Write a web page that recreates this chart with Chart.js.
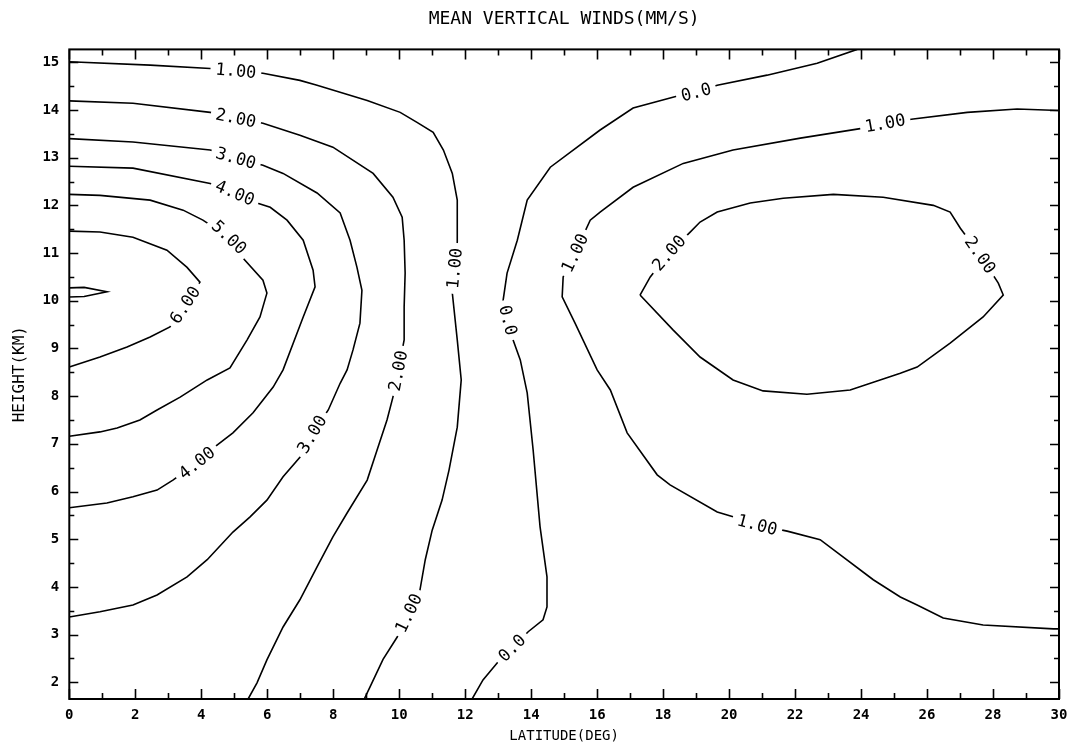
<!DOCTYPE html>
<html>
<head>
<meta charset="utf-8">
<title>Mean vertical winds</title>
<script src="https://cdn.jsdelivr.net/npm/chart.js@4.4.1/dist/chart.umd.min.js"></script>
<style>
  html, body { margin: 0; padding: 0; background: #ffffff; }
  #wrap { width: 1073px; height: 749px; }
</style>
</head>
<body>
<div id="wrap"><canvas id="chart" width="1073" height="749"></canvas></div>
<script>
// Axis tick values
const latTicks = [0, 2, 4, 6, 8, 10, 12, 14, 16, 18, 20, 22, 24, 26, 28, 30];
const heightTicks = [2, 3, 4, 5, 6, 7, 8, 9, 10, 11, 12, 13, 14, 15];

// Contour lines of mean vertical wind, vertices as [latitude (deg), height (km)]
const w100West = [
  [0, 15.01], [2.45, 14.94], [4.27, 14.87], [5.05, 14.82], [5.87, 14.77], [6.99, 14.62],
  [7.51, 14.52], [9.03, 14.20], [10.03, 13.95], [10.54, 13.74], [11.03, 13.53], [11.34, 13.16],
  [11.61, 12.67], [11.76, 12.11], [11.76, 11.23], [11.68, 10.68], [11.61, 10.16], [11.76, 9.18],
  [11.88, 8.34], [11.76, 7.35], [11.51, 6.45], [11.30, 5.82], [11.00, 5.19], [10.79, 4.57],
  [10.63, 3.94], [10.29, 3.45], [9.94, 2.95], [9.51, 2.48], [9.12, 1.91], [8.94, 1.65]
];
const w200West = [
  [0, 14.19], [1.93, 14.14], [4.27, 13.95], [5.05, 13.83], [5.87, 13.72], [6.99, 13.47],
  [7.99, 13.22], [9.21, 12.67], [9.81, 12.17], [10.09, 11.75], [10.15, 11.27], [10.18, 10.58],
  [10.15, 9.87], [10.15, 9.18], [9.97, 8.53], [9.81, 7.98], [9.63, 7.50], [9.33, 6.87],
  [9.03, 6.24], [8.42, 5.55], [7.99, 5.05], [7.51, 4.42], [6.99, 3.73], [6.48, 3.16],
  [5.99, 2.47], [5.69, 1.99], [5.42, 1.65]
];
const w300 = [
  [0, 13.40], [1.93, 13.33], [4.27, 13.16], [5.05, 12.99], [5.87, 12.84], [6.48, 12.67],
  [7.51, 12.26], [8.21, 11.84], [8.51, 11.27], [8.72, 10.70], [8.87, 10.22], [8.81, 9.53],
  [8.60, 8.97], [8.42, 8.55], [8.21, 8.27], [7.85, 7.71], [7.36, 7.20], [6.99, 6.72],
  [6.48, 6.31], [5.99, 5.82], [5.48, 5.47], [4.96, 5.15], [4.18, 4.57], [3.57, 4.21],
  [2.66, 3.83], [1.93, 3.62], [0.93, 3.48], [0, 3.37]
];
const w400 = [
  [0, 12.82], [1.93, 12.78], [4.27, 12.46], [5.02, 12.26], [5.69, 12.05], [6.09, 11.96],
  [6.60, 11.69], [7.09, 11.27], [7.39, 10.64], [7.45, 10.29], [7.09, 9.66], [6.48, 8.55],
  [6.18, 8.19], [5.57, 7.65], [4.96, 7.23], [4.36, 6.91], [3.87, 6.60], [3.14, 6.24],
  [2.66, 6.03], [1.93, 5.89], [1.14, 5.76], [0, 5.66]
];
const w500 = [
  [0, 12.23], [0.93, 12.21], [2.45, 12.11], [3.45, 11.90], [4.05, 11.69], [4.84, 11.33],
  [5.27, 10.89], [5.87, 10.43], [5.99, 10.16], [5.78, 9.66], [5.39, 9.18], [4.87, 8.59],
  [4.18, 8.34], [3.36, 7.98], [2.66, 7.71], [2.14, 7.50], [1.45, 7.33], [0.93, 7.25], [0, 7.16]
];
const w600 = [
  [0, 11.46], [0.93, 11.44], [1.93, 11.33], [2.96, 11.06], [3.57, 10.70], [3.96, 10.39],
  [3.51, 9.91], [3.05, 9.45], [2.45, 9.24], [1.75, 9.03], [0.93, 8.82], [0, 8.61]
];
const w700 = [
  [0, 10.27], [0.45, 10.28], [1.14, 10.19], [0.45, 10.09], [0, 10.08]
];
const w000 = [
  [12.21, 1.65], [12.54, 2.05], [13.00, 2.43], [13.42, 2.72], [13.91, 3.06], [14.36, 3.31],
  [14.48, 3.58], [14.48, 4.21], [14.27, 5.26], [14.06, 6.87], [13.88, 8.07], [13.67, 8.76],
  [13.45, 9.18], [13.30, 9.59], [13.15, 10.01], [13.27, 10.58], [13.58, 11.27], [13.88, 12.11],
  [14.58, 12.80], [16.09, 13.58], [17.09, 14.04], [18.52, 14.31], [19.00, 14.37], [19.64, 14.52],
  [21.15, 14.73], [22.67, 14.98], [23.88, 15.27]
];
const w100East = [
  [30, 13.99], [28.73, 14.02], [27.22, 13.95], [25.58, 13.81], [24.73, 13.72], [24.07, 13.62],
  [22.16, 13.41], [20.12, 13.16], [18.61, 12.88], [17.09, 12.38], [16.09, 11.86], [15.79, 11.69],
  [15.33, 11.00], [14.97, 10.50], [14.94, 10.08], [15.33, 9.53], [16.00, 8.55], [16.40, 8.13],
  [16.91, 7.23], [17.82, 6.35], [18.21, 6.14], [19.64, 5.57], [20.12, 5.47], [20.85, 5.30],
  [21.76, 5.17], [22.76, 4.99], [24.37, 4.15], [25.19, 3.79], [25.70, 3.62], [26.49, 3.35],
  [27.70, 3.20], [29.83, 3.12], [30, 3.12]
];
const w200East = [
  [17.30, 10.12], [17.61, 10.50], [18.18, 11.00], [18.82, 11.44], [19.12, 11.65], [19.64, 11.86],
  [20.64, 12.05], [21.64, 12.15], [23.16, 12.23], [24.67, 12.17], [26.19, 12.00], [26.70, 11.86],
  [27.01, 11.52], [27.61, 10.96], [28.16, 10.37], [28.31, 10.12], [27.70, 9.66], [26.70, 9.11],
  [25.70, 8.61], [25.19, 8.48], [23.67, 8.13], [22.36, 8.04], [21.03, 8.11], [20.12, 8.34],
  [19.12, 8.82], [18.30, 9.39], [17.30, 10.12]
];

// Contour level of each line and the vertices where its value is written
const contours = [
  { level: 1, points: w100West, labelAt: [3, 15, 25] },
  { level: 2, points: w200West, labelAt: [3, 14] },
  { level: 3, points: w300, labelAt: [3, 16] },
  { level: 4, points: w400, labelAt: [3, 16] },
  { level: 5, points: w500, labelAt: [5] },
  { level: 6, points: w600, labelAt: [6] },
  { level: 7, points: w700, labelAt: [] },
  { level: 0, points: w000, labelAt: [3, 13, 22] },
  { level: 1, points: w100East, labelAt: [4, 12, 23] },
  { level: 2, points: w200East, labelAt: [2, 13] }
];

const FONT = '"DejaVu Sans Mono", "Liberation Mono", monospace';
const levelText = v => (v === 0 ? '0.0' : v.toFixed(2));

// Writes the level on each contour, rotated along the line, over a white gap
const contourLabels = {
  id: 'contourLabels',
  afterDatasetsDraw(chart) {
    const { ctx } = chart;
    const xs = chart.scales.x, ys = chart.scales.y;
    const px = p => [xs.getPixelForValue(p[0]), ys.getPixelForValue(p[1])];
    ctx.save();
    ctx.font = '17px ' + FONT;
    ctx.textAlign = 'center';
    ctx.textBaseline = 'middle';
    contours.forEach(c => {
      c.labelAt.forEach(i => {
        const [cx, cy] = px(c.points[i]);
        const [ax, ay] = px(c.points[i - 1]);
        const [bx, by] = px(c.points[i + 1]);
        let ang = Math.atan2(by - ay, bx - ax);
        if (ang > Math.PI / 2) ang -= Math.PI;
        if (ang < -Math.PI / 2) ang += Math.PI;
        const txt = levelText(c.level);
        const w = ctx.measureText(txt).width;
        ctx.save();
        ctx.translate(cx, cy);
        ctx.rotate(ang);
        ctx.fillStyle = '#ffffff';
        ctx.fillRect(-w / 2 - 5, -8, w + 10, 16);
        ctx.fillStyle = '#000000';
        ctx.fillText(txt, 0, 1);
        ctx.restore();
      });
    });
    ctx.restore();
  }
};

// Closed frame with inward major and minor tick marks on all four sides
const frameTicks = {
  id: 'frameTicks',
  afterDraw(chart) {
    const { ctx, chartArea: a } = chart;
    const xs = chart.scales.x, ys = chart.scales.y;
    ctx.save();
    ctx.strokeStyle = '#000000';
    ctx.lineWidth = 2;
    ctx.strokeRect(a.left, a.top, a.right - a.left, a.bottom - a.top);
    ctx.lineWidth = 1.6;
    ctx.beginPath();
    const xMinor = latTicks.slice(1).map((v, i) => (v + latTicks[i]) / 2);
    const yMinor = heightTicks.slice(1).map((v, i) => (v + heightTicks[i]) / 2);
    const xMark = (v, len) => {
      const p = Math.round(xs.getPixelForValue(v)) + 0.5;
      ctx.moveTo(p, a.bottom); ctx.lineTo(p, a.bottom - len);
      ctx.moveTo(p, a.top); ctx.lineTo(p, a.top + len);
    };
    const yMark = (v, len) => {
      const p = Math.round(ys.getPixelForValue(v)) + 0.5;
      ctx.moveTo(a.left, p); ctx.lineTo(a.left + len, p);
      ctx.moveTo(a.right, p); ctx.lineTo(a.right - len, p);
    };
    latTicks.forEach(v => xMark(v, 10));
    xMinor.forEach(v => xMark(v, 6));
    heightTicks.forEach(v => yMark(v, 9));
    yMinor.forEach(v => yMark(v, 5));
    ctx.stroke();
    ctx.restore();
  }
};

const datasets = contours.map(c => ({
  data: c.points.map(([lat, h]) => ({ x: lat, y: h })),
  showLine: true,
  borderColor: '#000000',
  borderWidth: 1.6,
  pointRadius: 0,
  pointHoverRadius: 0,
  fill: false,
  tension: 0
}));

new Chart(document.getElementById('chart'), {
  type: 'scatter',
  data: { datasets },
  options: {
    responsive: false,
    animation: false,
    devicePixelRatio: 1,
    layout: { padding: { left: 0, right: 14, top: 0, bottom: 0 } },
    plugins: {
      legend: { display: false },
      tooltip: { enabled: false },
      title: {
        display: true,
        fullSize: false,
        text: 'MEAN VERTICAL WINDS(MM/S)',
        color: '#000000',
        font: { family: FONT, size: 18, weight: 'normal' },
        padding: { top: 9, bottom: 18.8 }
      }
    },
    scales: {
      x: {
        type: 'linear',
        min: 0,
        max: 30,
        afterBuildTicks: s => { s.ticks = latTicks.map(v => ({ value: v })); },
        afterFit: s => { s.height = 50; s.paddingLeft = 0; s.paddingRight = 0; },
        grid: { display: false, drawTicks: false },
        border: { display: false },
        ticks: {
          color: '#000000',
          padding: 8,
          maxRotation: 0,
          font: { family: FONT, size: 14, weight: 'bold' },
          callback: v => String(v)
        },
        title: {
          display: true,
          text: 'LATITUDE(DEG)',
          color: '#000000',
          font: { family: FONT, size: 14 },
          padding: { top: 0, bottom: 4 }
        }
      },
      y: {
        type: 'linear',
        min: 1.65,
        max: 15.27,
        afterBuildTicks: s => { s.ticks = heightTicks.map(v => ({ value: v })); },
        afterFit: s => { s.width = 69.3; s.paddingTop = 0; s.paddingBottom = 0; },
        grid: { display: false, drawTicks: false },
        border: { display: false },
        ticks: {
          color: '#000000',
          padding: 10,
          font: { family: FONT, size: 14, weight: 'bold' },
          callback: v => String(v)
        },
        title: {
          display: true,
          text: 'HEIGHT(KM)',
          color: '#000000',
          font: { family: FONT, size: 16 },
          padding: { top: 10, bottom: 0 }
        }
      }
    }
  },
  plugins: [contourLabels, frameTicks]
});
</script>
</body>
</html>
